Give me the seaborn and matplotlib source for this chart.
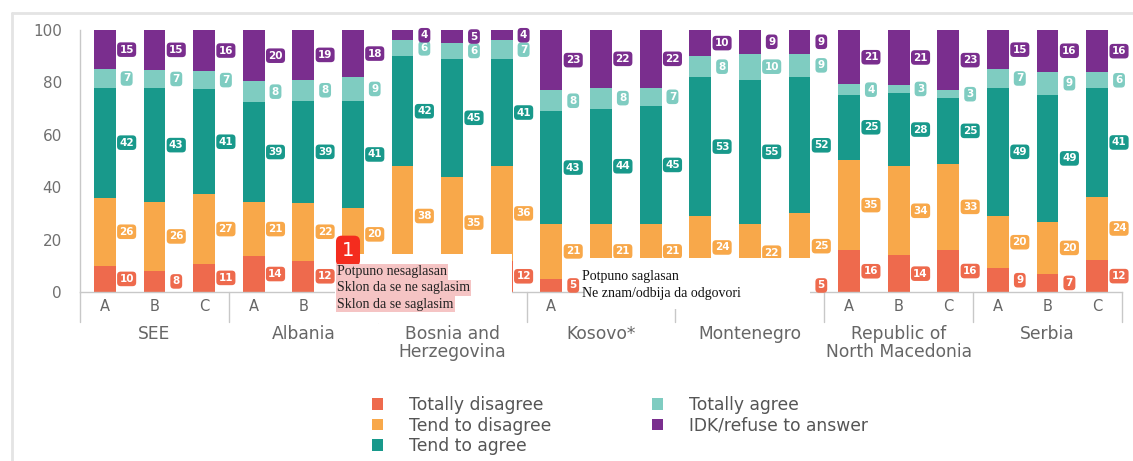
import numpy as np
import matplotlib.pyplot as plt
import seaborn as sns
from matplotlib.patches import Patch, Rectangle
from matplotlib.lines import Line2D
from matplotlib.transforms import blended_transform_factory

# data
groups = ["SEE", "Albania", "Bosnia and\nHerzegovina", "Kosovo*", "Montenegro",
          "Republic of\nNorth Macedonia", "Serbia"]
waves = ["A", "B", "C"]
categories = ["Totally disagree", "Tend to disagree", "Tend to agree",
              "Totally agree", "IDK/refuse to answer"]

totally_disagree = [10, 8, 11, 14, 12, 12, 10, 9, 12, 5, 5, 5, 5, 4, 5, 16, 14, 16, 9, 7, 12]
tend_disagree = [26, 26, 27, 21, 22, 20, 38, 35, 36, 21, 21, 21, 24, 22, 25, 35, 34, 33, 20, 20, 24]
tend_agree = [42, 43, 41, 39, 39, 41, 42, 45, 41, 43, 44, 45, 53, 55, 52, 25, 28, 25, 49, 49, 41]
totally_agree = [7, 7, 7, 8, 8, 9, 6, 6, 7, 8, 8, 7, 8, 10, 9, 4, 3, 3, 7, 9, 6]
idk = [15, 15, 16, 20, 19, 18, 4, 5, 4, 23, 22, 22, 10, 9, 9, 21, 21, 23, 15, 16, 16]

colors = ["#EE6A4D", "#F8A84A", "#18998B", "#7FCCC1", "#7A2E8E"]

sns.set_style("white")
plt.rcParams['font.family'] = ['DejaVu Sans']

W, H = 1133, 461
fig = plt.figure(figsize=(W / 100, H / 100), dpi=100)
ax = fig.add_axes([80 / W, 169 / H, 1042 / W, 262 / H])

bar_ids = [f"{g} {w}" for g in groups for w in waves]
values = np.array([totally_disagree, tend_disagree, tend_agree, totally_agree, idk])
# 100% stacked: rounded labels don't always add up to 100
shares = values / values.sum(axis=0) * 100
cum = shares.cumsum(axis=0)

# white boxes that hide part of the chart in the source document (data coords)
covers = [(4.63, 8.21, -11.8, 14.5), (9.66, 14.22, -6.5, 13.0)]


def covered(x, y):
    return any(x0 <= x <= x1 and y0 <= y <= y1 for x0, x1, y0, y1 in covers)


# stacked bars: draw cumulative totals back to front
for k in range(4, -1, -1):
    sns.barplot(x=bar_ids, y=cum[k], order=bar_ids, color=colors[k], saturation=1,
                width=0.44, linewidth=0, ax=ax)

# value labels next to each segment
for k in range(5):
    for i in range(len(bar_ids)):
        y = cum[k][i] - shares[k][i] / 2
        t = ax.text(i + 0.44, y, str(values[k][i]), ha='center', va='center',
                    color='white', fontsize=7.5, fontweight='bold', zorder=4,
                    bbox=dict(boxstyle='round,pad=0.22,rounding_size=0.35', fc=colors[k], ec='none'))
        t.set_visible(not covered(i + 0.44, y))

ax.set_ylim(0, 100)
ax.set_xlim(-0.5, 20.5)
ax.set_yticks(range(0, 101, 20))
ax.set_xticks(range(len(bar_ids)))
ax.set_xticklabels(waves * len(groups))
ax.tick_params(axis='y', length=0, pad=13, labelsize=11, labelcolor='#707070')
ax.tick_params(axis='x', length=0, pad=5, labelsize=10.5, labelcolor='#666666')
for i, lab in enumerate(ax.get_xticklabels()):
    lab.set_visible(not covered(i, -5))
ax.set_xlabel('')
ax.set_ylabel('')
for s in ['top', 'right']:
    ax.spines[s].set_visible(False)
for s in ['left', 'bottom']:
    ax.spines[s].set_color('#C8C8C8')
    ax.spines[s].set_linewidth(1)

# group separators and group names
for gi in range(len(groups) + 1):
    ax.plot([gi * 3 - 0.5] * 2, [0, -11.5], color='#C8C8C8', lw=1, clip_on=False, zorder=2)
trans = blended_transform_factory(ax.transData, ax.transAxes)
for gi, g in enumerate(groups):
    ax.text(gi * 3 + 1, -0.125, g, transform=trans, ha='center', va='top',
            fontsize=12.3, color='#666666', linespacing=1.05, multialignment='center')

for x0, x1, y0, y1 in covers:
    ax.add_patch(Rectangle((x0, y0), x1 - x0, y1 - y0, fc='white', ec='none',
                           zorder=10, clip_on=False))

# annotation overlay text
fig.text(348 / W, 1 - 251 / H, "1", ha='center', va='center', color='white', fontsize=14,
         bbox=dict(boxstyle='round,pad=0.3,rounding_size=0.3', fc='#F42C1E', ec='none'))
for j, t in enumerate(["Potpuno nesaglasan", "Sklon da se ne saglasim", "Sklon da se saglasim"]):
    fig.text(337 / W, 1 - (272 + 16 * j) / H, t, ha='left', va='center', fontsize=10,
             family='Liberation Serif', color='#222222',
             bbox=dict(boxstyle='square,pad=0.1', fc='#F5C4C4', ec='none'))
for j, t in enumerate(["Potpuno saglasan", "Ne znam/odbija da odgovori"]):
    fig.text(582 / W, 1 - (276 + 18 * j) / H, t, ha='left', va='center', fontsize=10,
             family='Liberation Serif', color='#111111')

# legend in two columns
handles = [Patch(fc=c, ec='none', label=l) for c, l in zip(colors, categories)]
leg_kw = dict(loc='upper left', frameon=False, fontsize=12.3, handlelength=0.65, handleheight=0.65,
              handletextpad=1.5, labelspacing=0.15, borderpad=0, borderaxespad=0,
              labelcolor='#555555')
fig.legend(handles=handles[:3], bbox_to_anchor=(372 / W, 1 - 396 / H), **leg_kw)
fig.legend(handles=handles[3:], bbox_to_anchor=(652 / W, 1 - 396 / H), **leg_kw)

# light frame of the screenshot
fig.add_artist(Line2D([12 / W, 1], [1 - 13 / H] * 2, transform=fig.transFigure,
                      color='#E4E4E4', lw=2))
fig.add_artist(Line2D([12 / W] * 2, [0, 1 - 13 / H], transform=fig.transFigure,
                      color='#E4E4E4', lw=2))

fig.savefig('out.png', dpi=100)
